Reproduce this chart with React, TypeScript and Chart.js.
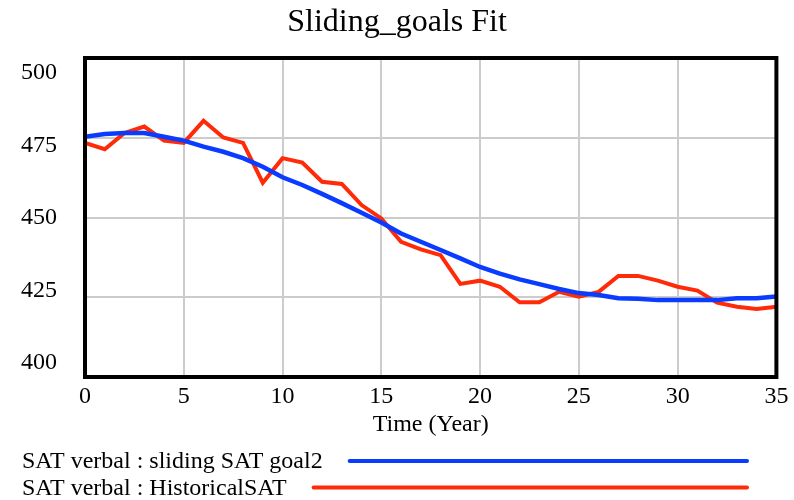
import { useEffect, useRef } from "react";
import { Chart, registerables } from "chart.js";

Chart.register(...registerables);

const years = [0, 1, 2, 3, 4, 5, 6, 7, 8, 9, 10, 11, 12, 13, 14, 15, 16, 17, 18, 19, 20, 21, 22, 23, 24, 25, 26, 27, 28, 29, 30, 31, 32, 33, 34, 35];

const slidingGoal = [475.3, 476.2, 476.5, 476.5, 475.3, 474.1, 472.2, 470.6, 468.6, 465.9, 462.6, 460.2, 457.4, 454.5, 451.5, 448.4, 445.0, 442.4, 439.8, 437.2, 434.5, 432.4, 430.6, 429.1, 427.6, 426.3, 425.7, 424.7, 424.5, 424.1, 424.1, 424.1, 424.1, 424.7, 424.7, 425.2];

const historicalSAT = [473.4, 471.4, 476.5, 478.5, 474.1, 473.4, 480.3, 475.1, 473.4, 460.9, 468.6, 467.2, 461.2, 460.5, 453.9, 449.7, 442.4, 440.0, 438.2, 429.2, 430.2, 428.3, 423.4, 423.4, 426.7, 425.2, 426.7, 431.7, 431.7, 430.2, 428.3, 427.1, 423.3, 422.0, 421.3, 422.0];

const yTicks = [400, 425, 450, 475, 500];
const xTicks = [0, 5, 10, 15, 20, 25, 30, 35];

const seriesLabels = ["SAT verbal : sliding SAT goal2", "SAT verbal : HistoricalSAT"];
const titleText = "Sliding_goals Fit";
const xTitle = "Time (Year)";

const BLUE = "#0a3cff";
const RED = "#ff2a08";
const FONT = '"Liberation Serif", "Times New Roman", serif';

const boxPlugin = {
  id: "plotBox",
  afterDatasetsDraw(chart: any) {
    const { ctx, chartArea } = chart;
    ctx.save();
    ctx.strokeStyle = "#000";
    ctx.lineWidth = 4;
    ctx.strokeRect(chartArea.left, chartArea.top, chartArea.right - chartArea.left, chartArea.bottom - chartArea.top);
    ctx.restore();
  },
};

const legendPlugin = {
  id: "bottomLegend",
  afterDraw(chart: any) {
    const ctx = chart.ctx;
    ctx.save();
    ctx.font = `24px ${FONT}`;
    ctx.textBaseline = "middle";
    ctx.textAlign = "left";
    chart.data.datasets.forEach((ds: any, i: number) => {
      const y = 462 + i * 26.5;
      ctx.fillStyle = "#000";
      ctx.fillText(ds.label, 22, y);
      const w = ctx.measureText(ds.label).width;
      ctx.strokeStyle = ds.borderColor;
      ctx.lineWidth = 4;
      ctx.lineCap = "round";
      ctx.beginPath();
      ctx.moveTo(22 + w + 27, y - 1);
      ctx.lineTo(747, y - 1);
      ctx.stroke();
    });
    ctx.restore();
  },
};

export default function App() {
  const ref = useRef<HTMLCanvasElement | null>(null);

  useEffect(() => {
    if (!ref.current) return;
    const chart = new Chart(ref.current, {
      type: "line",
      data: {
        labels: years,
        datasets: [
          {
            label: seriesLabels[0],
            data: years.map((x, i) => ({ x, y: slidingGoal[i] })),
            borderColor: BLUE,
            backgroundColor: BLUE,
            borderWidth: 4.5,
            pointRadius: 0,
            tension: 0,
            yAxisID: "y",
          },
          {
            label: seriesLabels[1],
            data: years.map((x, i) => ({ x, y: historicalSAT[i] })),
            borderColor: RED,
            backgroundColor: RED,
            borderWidth: 4,
            pointRadius: 0,
            tension: 0,
            yAxisID: "y",
          },
        ],
      },
      options: {
        responsive: false,
        animation: false,
        layout: { padding: 0 },
        plugins: {
          legend: { display: false },
          tooltip: { enabled: false },
          title: {
            display: true,
            text: titleText,
            color: "#000",
            font: { family: FONT, size: 32, weight: "normal", lineHeight: 1.2 },
            padding: { top: 3.8, bottom: 15.8 },
          },
        },
        scales: {
          x: {
            type: "linear",
            min: 0,
            max: 35,
            afterBuildTicks: (scale: any) => {
              scale.ticks = xTicks.map((v) => ({ value: v }));
            },
            ticks: {
              color: "#000",
              font: { family: FONT, size: 24, lineHeight: 1.2 },
              padding: 5.6,
              maxRotation: 0,
            },
            grid: { color: "#cccccc", lineWidth: 2, drawTicks: false },
            border: { display: false },
            title: {
              display: true,
              text: xTitle,
              color: "#000",
              font: { family: FONT, size: 24, lineHeight: 1.2 },
              padding: { top: 0, bottom: 60.6 },
            },
            afterFit: (scale: any) => {
              scale.height = 123;
            },
          },
          y: {
            type: "linear",
            position: "left",
            min: 400,
            max: 500,
            afterBuildTicks: (scale: any) => {
              scale.ticks = yTicks.map((v) => ({ value: v }));
            },
            ticks: { display: false },
            grid: { color: "#cccccc", lineWidth: 2, drawTicks: false },
            border: { display: false },
            afterFit: (scale: any) => {
              scale.width = 0;
            },
          },
          yLabels: {
            type: "linear",
            position: "left",
            min: 395.2,
            max: 505.2,
            afterBuildTicks: (scale: any) => {
              scale.ticks = yTicks.map((v) => ({ value: v }));
            },
            ticks: {
              color: "#000",
              font: { family: FONT, size: 24, lineHeight: 1.2 },
              padding: 28,
            },
            grid: { display: false, drawTicks: false },
            border: { display: false },
            afterFit: (scale: any) => {
              scale.width = 85;
            },
          },
          yRightGap: {
            type: "linear",
            position: "right",
            min: 400,
            max: 500,
            ticks: { display: false },
            grid: { display: false, drawTicks: false },
            border: { display: false },
            afterFit: (scale: any) => {
              scale.width = 16.5;
            },
          },
        },
      },
      plugins: [boxPlugin, legendPlugin],
    });
    return () => chart.destroy();
  }, []);

  return (
    <div style={{ position: "absolute", left: 0, top: 0, width: 794, height: 500, background: "#fff" }}>
      <canvas ref={ref} width={794} height={500} />
    </div>
  );
}
